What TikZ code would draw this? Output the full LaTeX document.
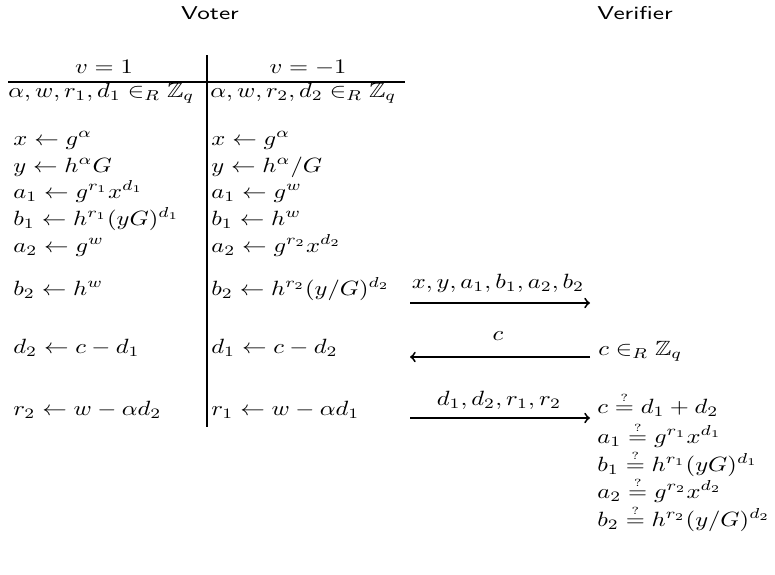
\documentclass[tikz,border=0pt]{standalone}
\usepackage{amsmath,amssymb}
\usepackage{graphicx}

% the original figure is stretched sideways
\newcommand{\wmath}[1]{\scalebox{1.19}[1]{$#1$}}
\newcommand{\wtext}[1]{\scalebox{1.32}[1]{#1}}
\newcommand{\chk}{\mathrel{\overset{\smash{\scriptscriptstyle ?}}{=}}}

\begin{document}
\begin{tikzpicture}[x=0.485pt, y=-0.485pt]
    \tikzset{
        party/.style={anchor=base, inner sep=0pt, font=\sffamily\small},
        colhead/.style={anchor=base, inner sep=0pt},
        row/.style={anchor=base west, inner sep=0pt},
        label/.style={anchor=base, inner sep=0pt},
        rulestyle/.style={line width=1pt, black},
        msg/.style={line width=0.9pt, -to}
    }
    \useasboundingbox (0,0) rectangle (775,574);

    % --- parties ---
    \node[party] (voter) at (210,19) {\wtext{Voter}};
    \node[party] (verifier) at (635,19) {\wtext{Verifier}};

    % --- voter table ---
    \node[colhead] (hdA) at (104,73) {\wmath{v = 1}};
    \node[colhead] (hdB) at (308,73) {\wmath{v = -1}};
    \draw[rulestyle] (8,82) -- (405,82);
    \draw[rulestyle] (207,55) -- (207,427);

    % v = 1
    \node[row] (lrand) at (8,97) {\wmath{\alpha, w, r_1, d_1 \in_R \mathbb{Z}_q}};
    \node[row] (lx) at (13,145) {\wmath{x \gets g^\alpha}};
    \node[row] (ly) at (13,172) {\wmath{y \gets h^\alpha G}};
    \node[row] (la1) at (13,198) {\wmath{a_1 \gets g^{r_1} x^{d_1}}};
    \node[row] (lb1) at (13,225) {\wmath{b_1 \gets h^{r_1} (yG)^{d_1}}};
    \node[row] (la2) at (13,252) {\wmath{a_2 \gets g^w}};
    \node[row] (lb2) at (13,295) {\wmath{b_2 \gets h^w}};
    \node[row] (ld) at (13,353) {\wmath{d_2 \gets c - d_1}};
    \node[row] (lr) at (13,415) {\wmath{r_2 \gets w - \alpha d_2}};

    % v = -1
    \node[row] (rrand) at (210,97) {\wmath{\alpha, w, r_2, d_2 \in_R \mathbb{Z}_q}};
    \node[row] (rx) at (211,145) {\wmath{x \gets g^\alpha}};
    \node[row] (ry) at (211,172) {\wmath{y \gets h^\alpha / G}};
    \node[row] (ra1) at (211,198) {\wmath{a_1 \gets g^w}};
    \node[row] (rb1) at (211,225) {\wmath{b_1 \gets h^w}};
    \node[row] (ra2) at (211,252) {\wmath{a_2 \gets g^{r_2} x^{d_2}}};
    \node[row] (rb2) at (211,295) {\wmath{b_2 \gets h^{r_2} (y/G)^{d_2}}};
    \node[row] (rd) at (211,353) {\wmath{d_1 \gets c - d_2}};
    \node[row] (rr) at (211,415) {\wmath{r_1 \gets w - \alpha d_1}};

    % --- messages ---
    \coordinate (m1s) at (410,303);
    \coordinate (m1e) at (590,303);
    \coordinate (m2s) at (590,357);
    \coordinate (m2e) at (410,357);
    \coordinate (m3s) at (410,418);
    \coordinate (m3e) at (590,418);
    \draw[msg] (m1s) -- (m1e);
    \draw[msg] (m2s) -- (m2e);
    \draw[msg] (m3s) -- (m3e);
    \node[label] (commit) at (498,288) {\wmath{x, y, a_1, b_1, a_2, b_2}};
    \node[label] (chal) at (498,340) {\wmath{c}};
    \node[label] (resp) at (499,405) {\wmath{d_1, d_2, r_1, r_2}};

    % --- verifier ---
    \node[row] (vc) at (598,355) {\wmath{c \in_R \mathbb{Z}_q}};
    \node[row] (vsum) at (597,413) {\wmath{c \chk d_1 + d_2}};
    \node[row] (va1) at (597,443) {\wmath{a_1 \chk g^{r_1} x^{d_1}}};
    \node[row] (vb1) at (597,471) {\wmath{b_1 \chk h^{r_1} (yG)^{d_1}}};
    \node[row] (va2) at (597,498) {\wmath{a_2 \chk g^{r_2} x^{d_2}}};
    \node[row] (vb2) at (597,526) {\wmath{b_2 \chk h^{r_2} (y/G)^{d_2}}};

\end{tikzpicture}
\end{document}
